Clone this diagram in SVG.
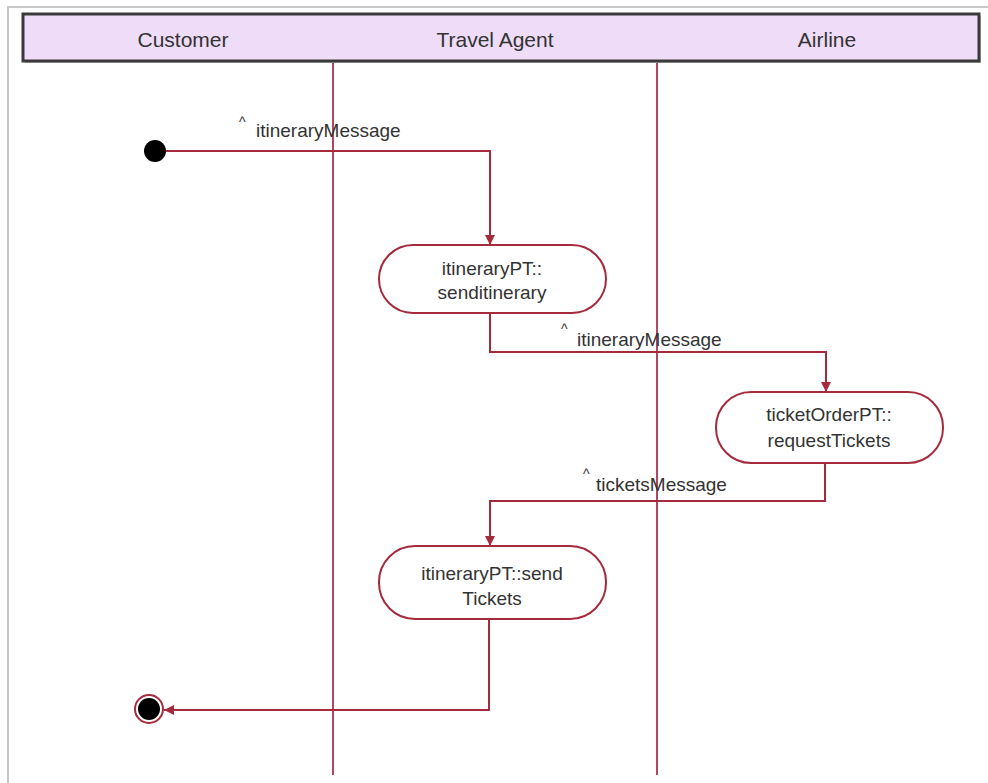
<svg xmlns="http://www.w3.org/2000/svg" width="988" height="783" viewBox="0 0 988 783">
<style>
.frame{fill:none;stroke:#c8c8c8;stroke-width:2}
.hdr{fill:#efdcf8;stroke:#3a3a3a;stroke-width:3}
.lane{stroke:#b0485e;stroke-width:2;fill:none}
.edge{stroke:#a52a3c;stroke-width:2;fill:none}
.act{fill:#fff;stroke:#a52a3c;stroke-width:2}
text{font-family:"Liberation Sans",Arial,sans-serif;fill:#333}
.h{font-size:21px;text-anchor:middle}
.t{font-size:19px;text-anchor:middle}
.l{font-size:19px}
.c{font-size:14px}
</style>
<defs>
<marker id="arr" viewBox="0 0 10 10" refX="10" refY="5" markerWidth="5" markerHeight="5" orient="auto" markerUnits="strokeWidth">
<path d="M0,0 L10,5 L0,10 z" fill="#a52a3c"/>
</marker>
</defs>
<rect width="988" height="783" fill="#fff"/>
<path class="frame" d="M8,783 V7 H988"/>
<g id="header">
<rect x="25" y="16" width="956" height="47" fill="#8a8a8a" opacity="0.5"/>
<rect class="hdr" x="23" y="14" width="956" height="47"/>
<text class="h" x="183" y="47">Customer</text>
<text class="h" x="495" y="47">Travel Agent</text>
<text class="h" x="827" y="47">Airline</text>
</g>
<g id="lanes">
<line class="lane" x1="333" y1="63" x2="333" y2="775"/>
<line class="lane" x1="657" y1="63" x2="657" y2="775"/>
</g>
<g id="connectors">
<path class="edge" d="M166,151 H490 V245" marker-end="url(#arr)"/>
<path class="edge" d="M490,313 V352 H826 V392" marker-end="url(#arr)"/>
<path class="edge" d="M825,463 V501 H490 V546" marker-end="url(#arr)"/>
<path class="edge" d="M489,619 V710 H164" marker-end="url(#arr)"/>
<text class="c" x="239" y="127">^</text>
<text class="l" x="256" y="137">itineraryMessage</text>
<text class="c" x="561" y="334">^</text>
<text class="l" x="577" y="346">itineraryMessage</text>
<text class="c" x="583" y="479">^</text>
<text class="l" x="596" y="491">ticketsMessage</text>
</g>
<g id="start">
<circle cx="155" cy="151" r="11" fill="#000"/>
</g>
<g id="sendItinerary">
<rect class="act" x="379" y="245" width="227" height="68" rx="34"/>
<text class="t" x="492" y="275">itineraryPT::</text>
<text class="t" x="492" y="299">senditinerary</text>
</g>
<g id="requestTickets">
<rect class="act" x="716" y="392" width="227" height="71" rx="35"/>
<text class="t" x="829" y="421">ticketOrderPT::</text>
<text class="t" x="829" y="447">requestTickets</text>
</g>
<g id="sendTickets">
<rect class="act" x="379" y="546" width="227" height="73" rx="36"/>
<text class="t" x="492" y="580">itineraryPT::send</text>
<text class="t" x="492" y="605">Tickets</text>
</g>
<g id="end">
<circle cx="149" cy="709" r="14" fill="#fff" stroke="#a52a3c" stroke-width="2"/>
<circle cx="149" cy="709" r="11" fill="#000"/>
</g>
</svg>
